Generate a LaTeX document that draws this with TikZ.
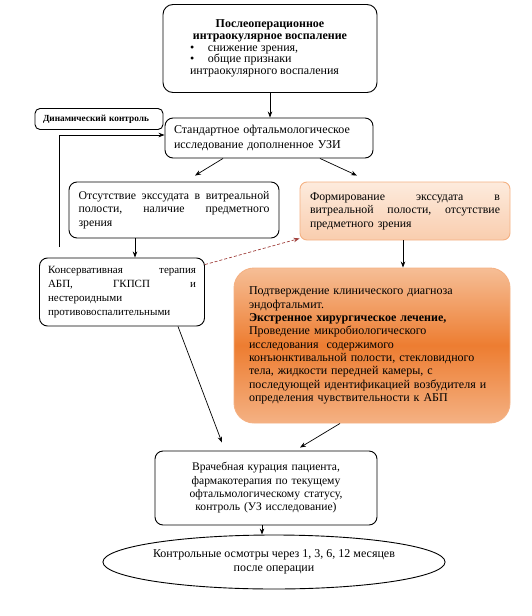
\documentclass[tikz,border=0pt]{standalone}
\usepackage{fontspec}
\setmainfont{Liberation Serif}
\usetikzlibrary{arrows.meta,shapes.geometric}
\definecolor{orbord}{HTML}{F4B183}
\definecolor{ortop}{HTML}{F6BE96}
\definecolor{ormid}{HTML}{ED7D31}
\definecolor{orbot}{HTML}{F4B183}
\definecolor{pktop}{HTML}{FDEBDD}
\definecolor{pkbot}{HTML}{F9CDAE}
\definecolor{dashred}{HTML}{A0403C}
\begin{document}
\begin{tikzpicture}[x=1pt,y=-1pt,
  box/.style={draw, line width=0.9pt, rounded corners=8pt, inner sep=0pt,
    font=\fontsize{12}{14.5}\selectfont},
  arr/.style={-{Stealth[length=6pt,width=4.5pt]}, line width=0.7pt},
]
\useasboundingbox (0,0) rectangle (532,616);

\node[box, rounded corners=10pt, minimum width=214pt, minimum height=88pt] (top) at (270,48.5)
 {\begin{minipage}{160pt}\fontsize{12}{11.7}\selectfont
  \centering\textbf{Послеоперационное\\интраокулярное воспаление}\par
  \raggedright
  \makebox[18pt][l]{•}снижение зрения,\\
  \makebox[18pt][l]{•}общие признаки\\
  интраокулярного воспаления\end{minipage}};

\node[box, rounded corners=5pt, minimum width=128pt, minimum height=21pt,
  text width=112pt, align=left, font=\fontsize{9.3}{10}\selectfont\bfseries] (dyn) at (99,119)
 {Динамический контроль};

\node[box, minimum width=208pt, minimum height=40pt, text width=190pt, align=left] (std) at (269,138)
 {Стандартное офтальмологическое\\исследование дополненное УЗИ};

\node[box, minimum width=210pt, minimum height=56pt, text width=191pt, align=left,
  font=\fontsize{11.8}{13.5}\selectfont] (abs) at (174,210)
 {Отсутствие\hfill экссудата\hfill в\hfill витреальной\\
  полости,\hfill наличие\hfill предметного\\
  зрения};

\node[box, draw=orbord, top color=pktop, bottom color=pkbot, rounded corners=7pt,
  minimum width=210pt, minimum height=58pt, text width=190pt, align=left,
  font=\fontsize{11.8}{13.5}\selectfont] (form) at (405,211)
 {Формирование\hfill экссудата\hfill в\\
  витреальной\hfill полости,\hfill отсутствие\\
  предметного зрения};

\node[box, minimum width=165pt, minimum height=68pt, text width=148pt, align=left,
  font=\fontsize{11}{14}\selectfont] (cons) at (122,292)
 {Консервативная\hfill терапия\\
  АБП,\hfill ГКПСП\hfill и\\
  нестероидными\\
  противовоспалительными};

\node[box, draw=orbord, rounded corners=20pt, top color=ortop, bottom color=orbot, middle color=ormid,
  minimum width=276pt, minimum height=155pt, text width=246pt, align=left,
  font=\fontsize{12}{13.3}\selectfont] (orng) at (372,345.5)
 {Подтверждение клинического диагноза\\
  эндофтальмит.\\
  \textbf{Экстренное хирургическое лечение,}\\
  Проведение микробиологического\\
  исследования\ \ содержимого\\
  конъюнктивальной полости, стекловидного\\
  тела, жидкости передней камеры, с\\
  последующей идентификацией возбудителя и\\
  определения чувствительности к АБП};

\node[box, minimum width=222pt, minimum height=74pt, text width=214pt, align=center,
  font=\fontsize{11.6}{13.3}\selectfont] (vrach) at (266,488)
 {Врачебная курация пациента,\\
  фармакотерапия по текущему\\
  офтальмологическому статусу,\\
  контроль (УЗ исследование)};

\node[draw, line width=0.9pt, ellipse, inner sep=0pt, minimum width=328pt, minimum height=54pt,
  align=center, font=\fontsize{12}{14}\selectfont] (ell) at (274,562)
 {Контрольные осмотры через 1, 3, 6, 12 месяцев\\после операции};

\coordinate (fb) at (59,247);

\draw[arr] (top.south) -- (top.south |- std.north);
\draw[arr] (fb) |- ([yshift=3pt]std.west);
\draw[arr] ([xshift=-46pt]std.south) -- ([xshift=21pt,yshift=6pt]abs.north);
\draw[arr] ([xshift=51pt]std.south) -- ([xshift=-48pt,yshift=6pt]form.north);
\draw[arr] ([xshift=-39pt]abs.south) -- ([xshift=-39pt]abs.south |- cons.north);
\draw[arr] ([xshift=-2pt]form.south) -- ([xshift=-2pt]form.south |- orng.north);
\draw[arr, dashed, dashred, dash pattern=on 3pt off 2pt, -{Stealth[length=6pt,width=4.5pt]}]
  ([yshift=-7pt]cons.north east) -- ([yshift=2pt]form.south west);
\draw[arr] ([xshift=56pt]cons.south) -- ([xshift=-44pt,yshift=8pt]vrach.north);
\draw[arr] ([xshift=-32pt]orng.south) -- ([xshift=34pt,yshift=3pt]vrach.north);
\draw[arr] ([xshift=-4pt]vrach.south) -- ([xshift=-4pt]vrach.south |- ell.north);
\end{tikzpicture}
\end{document}
